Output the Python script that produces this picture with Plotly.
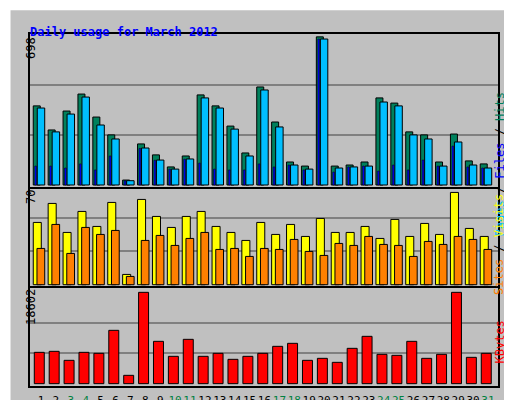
"""Webalizer style daily usage chart, March 2012."""
import plotly.graph_objects as go

days = list(range(1, 32))
weekend = {3, 4, 10, 11, 17, 18, 24, 25, 31}

hits = [368, 256, 344, 423, 316, 233, 23, 191, 140, 84, 135, 419, 368, 274, 149, 456,
        293, 107, 88, 689, 88, 93, 107, 405, 381, 247, 233, 107, 237, 112, 98]
files = [358, 247, 330, 409, 279, 214, 20, 172, 116, 74, 121, 405, 358, 260, 135, 442,
         270, 93, 74, 679, 79, 84, 88, 386, 368, 233, 214, 88, 200, 93, 79]
pages = [88, 88, 79, 98, 70, 135, 20, 170, 115, 74, 120, 102, 74, 70, 70, 98,
         84, 93, 70, 679, 60, 84, 88, 65, 93, 70, 116, 88, 181, 84, 79]
visits = [43.6, 56.9, 36.6, 51.3, 40.8, 57.6, 7.2, 59.7, 47.8, 40.1, 47.8, 51.3, 40.8, 36.6, 31.0, 43.6,
          35.2, 42.2, 33.8, 46.4, 36.6, 36.6, 40.8, 32.4, 45.7, 33.8, 42.9, 35.2, 64.6, 39.4, 33.8]
sites = [25.4, 42.2, 21.9, 40.1, 35.2, 38.0, 5.8, 31.0, 34.5, 27.5, 32.4, 36.6, 24.7, 25.4, 19.8, 25.4,
         24.7, 31.7, 23.3, 20.5, 28.9, 27.5, 33.8, 28.2, 27.5, 19.8, 30.3, 28.2, 33.8, 31.7, 24.7]
kbytes = [6382, 6585, 4752, 6382, 6178, 10862, 1697, 18602, 8622, 5567, 9030, 5567, 6178, 4956, 5567, 6178,
          7604, 8215, 4752, 5160, 4345, 7197, 9641, 5974, 5771, 8622, 5160, 5974, 18602, 5363, 6178]

MONO = "DejaVu Sans Mono"
GRID = "#808080"


def bar(y, color, width, offset, axis, line=1):
    return go.Bar(x=days, y=y, width=width, offset=offset, xaxis="x", yaxis=axis,
                  marker={"color": color, "line": {"color": "black", "width": line}},
                  showlegend=False, hoverinfo="skip")


fig = go.Figure()
fig.add_trace(bar(hits, "#00805c", 0.47, -0.52, "y"))
fig.add_trace(bar(files, "#00bfff", 0.5, -0.25, "y"))
fig.add_trace(bar(pages, "#0000ff", 0.12, -0.42, "y", 0.5))
fig.add_trace(bar(visits, "#ffff00", 0.54, -0.52, "y2"))
fig.add_trace(bar(sites, "#ff8000", 0.52, -0.27, "y2"))
fig.add_trace(bar(kbytes, "#ff0000", 0.67, -0.45, "y3"))

ticktext = [f"<span style='color:{'#008040' if d in weekend else 'black'}'>{d}</span>" for d in days]


def yax(dom, rng, top):
    return {"domain": dom, "range": rng, "tickvals": [top / 3, 2 * top / 3], "showticklabels": False,
            "showgrid": True, "gridcolor": GRID, "gridwidth": 1.5, "zeroline": False,
            "fixedrange": True, "automargin": False}


fig.update_layout(
    width=512, height=400, margin={"l": 0, "r": 0, "t": 0, "b": 0},
    paper_bgcolor="#c0c0c0", plot_bgcolor="#c0c0c0", barmode="overlay",
    xaxis={"domain": [21 / 512, 491 / 512], "range": [0.195, 31.74], "tickvals": days,
           "ticktext": ticktext, "tickfont": {"family": MONO, "size": 11}, "showgrid": False,
           "tickangle": 0, "automargin": False, "ticklen": 3, "ticks": "outside",
           "tickcolor": "#c0c0c0", "zeroline": False, "anchor": "y3"},
    yaxis=yax([0.55, 0.9375], [-14, 707], 698),
    yaxis2=yax([0.3025, 0.55], [-1.6, 67.7], 70),
    yaxis3=yax([0.0525, 0.3025], [-679, 19688], 18602),
)

# frames
shapes = [
    {"type": "rect", "xref": "paper", "yref": "paper", "x0": 0.002, "x1": 0.998, "y0": 0.002, "y1": 0.998,
     "line": {"color": "white", "width": 3}},
    {"type": "line", "xref": "paper", "yref": "paper", "x0": 0.993, "x1": 0.993, "y0": 0.0, "y1": 0.99,
     "line": {"color": "#808080", "width": 4}},
    {"type": "line", "xref": "paper", "yref": "paper", "x0": 0.01, "x1": 1, "y0": 0.005, "y1": 0.005,
     "line": {"color": "#808080", "width": 4}},
]
for y0, y1 in ((0.55, 0.9375), (0.3025, 0.55), (0.0525, 0.3025)):
    shapes.append({"type": "rect", "xref": "paper", "yref": "paper", "x0": 21 / 512, "x1": 491 / 512,
                   "y0": y0, "y1": y1, "line": {"color": "black", "width": 2}})
fig.update_layout(shapes=shapes)

ann = [
    dict(text="<b>Daily usage for March 2012</b>", x=20 / 512, y=1 - 15 / 400, xanchor="left",
         font={"family": MONO, "size": 12, "color": "#0000ff"}),
    dict(text="698", x=14 / 512, y=1 - 27 / 400, yanchor="top", textangle=-90,
         font={"family": MONO, "size": 12, "color": "black"}),
    dict(text="70", x=14 / 512, y=1 - 180 / 400, yanchor="top", textangle=-90,
         font={"family": MONO, "size": 12, "color": "black"}),
    dict(text="18602", x=14 / 512, y=1 - 279 / 400, yanchor="top", textangle=-90,
         font={"family": MONO, "size": 12, "color": "black"}),
    dict(text="<span style='color:#00bfff'>Pages</span> / <span style='color:#0000ff'>Files</span>"
              " / <span style='color:#00805c'>Hits</span>",
         x=500 / 512, y=1 - 82 / 400, textangle=-90, font={"family": MONO, "size": 12, "color": "black"}),
    dict(text="<span style='color:#ff8000'>Sites</span> / <span style='color:#ffff00'>Visits</span>",
         x=500 / 512, y=1 - 237 / 400, textangle=-90, font={"family": MONO, "size": 12, "color": "black"}),
    dict(text="KBytes", x=500 / 512, y=1 - 358 / 400, textangle=-90,
         font={"family": MONO, "size": 12, "color": "#ff0000"}),
]
for a in ann:
    a.update(xref="paper", yref="paper", showarrow=False)
fig.update_layout(annotations=ann)

fig.write_html("out.html")
